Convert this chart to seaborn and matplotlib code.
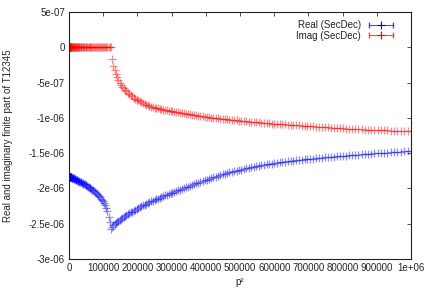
import matplotlib
matplotlib.use("Agg")
import matplotlib.pyplot as plt
from matplotlib.lines import Line2D
from matplotlib.legend_handler import HandlerLine2D, HandlerTuple
import seaborn as sns
import pandas as pd

# p^2 sampling points (p = 0, 5, ..., 1000)
p2 = [0, 25, 100, 225, 400, 625, 900, 1225, 1600, 2025, 2500, 3025, 3600, 4225, 4900, 5625,
      6400, 7225, 8100, 9025, 10000, 11025, 12100, 13225, 14400, 15625, 16900, 18225, 19600,
      21025, 22500, 24025, 25600, 27225, 28900, 30625, 32400, 34225, 36100, 38025, 40000,
      42025, 44100, 46225, 48400, 50625, 52900, 55225, 57600, 60025, 62500, 65025, 67600,
      70225, 72900, 75625, 78400, 81225, 84100, 87025, 90000, 93025, 96100, 99225, 102400,
      105625, 108900, 112225, 115600, 119025, 122500, 126025, 129600, 133225, 136900, 140625,
      144400, 148225, 152100, 156025, 160000, 164025, 168100, 172225, 176400, 180625, 184900,
      189225, 193600, 198025, 202500, 207025, 211600, 216225, 220900, 225625, 230400, 235225,
      240100, 245025, 250000, 255025, 260100, 265225, 270400, 275625, 280900, 286225, 291600,
      297025, 302500, 308025, 313600, 319225, 324900, 330625, 336400, 342225, 348100, 354025,
      360000, 366025, 372100, 378225, 384400, 390625, 396900, 403225, 409600, 416025, 422500,
      429025, 435600, 442225, 448900, 455625, 462400, 469225, 476100, 483025, 490000, 497025,
      504100, 511225, 518400, 525625, 532900, 540225, 547600, 555025, 562500, 570025, 577600,
      585225, 592900, 600625, 608400, 616225, 624100, 632025, 640000, 648025, 656100, 664225,
      672400, 680625, 688900, 697225, 705600, 714025, 722500, 731025, 739600, 748225, 756900,
      765625, 774400, 783225, 792100, 801025, 810000, 819025, 828100, 837225, 846400, 855625,
      864900, 874225, 883600, 893025, 902500, 912025, 921600, 931225, 940900, 950625, 960400,
      970225, 980100, 990025, 1000000]

# real part, in units of 1e-6
real_e6 = [-1.830, -1.830, -1.830, -1.830, -1.831, -1.831, -1.832, -1.832, -1.833, -1.834,
           -1.835, -1.836, -1.837, -1.838, -1.840, -1.841, -1.843, -1.844, -1.846, -1.848,
           -1.850, -1.853, -1.855, -1.858, -1.861, -1.864, -1.867, -1.871, -1.874, -1.878,
           -1.881, -1.885, -1.889, -1.893, -1.897, -1.902, -1.906, -1.911, -1.915, -1.920,
           -1.925, -1.931, -1.937, -1.944, -1.950, -1.957, -1.965, -1.973, -1.981, -1.990,
           -1.999, -2.008, -2.017, -2.026, -2.038, -2.050, -2.063, -2.076, -2.092, -2.108,
           -2.125, -2.144, -2.164, -2.185, -2.209, -2.236, -2.272, -2.322, -2.400, -2.480,
           -2.570, -2.540, -2.518, -2.504, -2.491, -2.478, -2.465, -2.451, -2.438, -2.424,
           -2.410, -2.397, -2.383, -2.369, -2.355, -2.341, -2.327, -2.313, -2.300, -2.288,
           -2.276, -2.263, -2.251, -2.240, -2.229, -2.217, -2.206, -2.194, -2.184, -2.174,
           -2.164, -2.153, -2.143, -2.133, -2.122, -2.111, -2.100, -2.090, -2.080, -2.070,
           -2.059, -2.049, -2.038, -2.028, -2.017, -2.006, -1.996, -1.985, -1.974, -1.963,
           -1.952, -1.941, -1.930, -1.918, -1.908, -1.897, -1.886, -1.875, -1.864, -1.853,
           -1.842, -1.832, -1.821, -1.811, -1.801, -1.792, -1.783, -1.774, -1.765, -1.756,
           -1.748, -1.740, -1.732, -1.724, -1.717, -1.709, -1.702, -1.695, -1.688, -1.681,
           -1.674, -1.667, -1.660, -1.654, -1.649, -1.643, -1.637, -1.631, -1.626, -1.621,
           -1.616, -1.611, -1.606, -1.601, -1.596, -1.592, -1.588, -1.584, -1.580, -1.576,
           -1.571, -1.567, -1.564, -1.560, -1.556, -1.553, -1.549, -1.545, -1.541, -1.538,
           -1.534, -1.530, -1.527, -1.523, -1.520, -1.516, -1.512, -1.509, -1.506, -1.503,
           -1.500, -1.497, -1.494, -1.491, -1.488, -1.485, -1.482, -1.479, -1.476, -1.473,
           -1.470]

# imaginary part, in units of 1e-6 (zero below threshold)
imag_e6 = [0.0] * 71 + [
           -0.170, -0.262, -0.326, -0.379, -0.424, -0.463, -0.500, -0.529, -0.556,
           -0.581, -0.604, -0.625, -0.645, -0.663, -0.681, -0.697, -0.713, -0.727, -0.741,
           -0.754, -0.767, -0.779, -0.790, -0.801, -0.811, -0.821, -0.831, -0.840, -0.849,
           -0.857, -0.862, -0.867, -0.872, -0.877, -0.882, -0.887, -0.892, -0.897, -0.902,
           -0.907, -0.911, -0.916, -0.920, -0.925, -0.929, -0.934, -0.939, -0.943, -0.948,
           -0.953, -0.958, -0.963, -0.968, -0.973, -0.977, -0.982, -0.987, -0.991, -0.995,
           -0.999, -1.002, -1.006, -1.010, -1.014, -1.018, -1.021, -1.025, -1.028, -1.031,
           -1.035, -1.038, -1.042, -1.045, -1.048, -1.052, -1.055, -1.059, -1.062, -1.065,
           -1.068, -1.071, -1.074, -1.077, -1.080, -1.083, -1.086, -1.089, -1.091, -1.094,
           -1.097, -1.099, -1.102, -1.105, -1.108, -1.110, -1.113, -1.116, -1.119, -1.121,
           -1.124, -1.127, -1.130, -1.132, -1.135, -1.138, -1.140, -1.143, -1.146, -1.148,
           -1.151, -1.153, -1.155, -1.158, -1.160, -1.162, -1.165, -1.167, -1.169, -1.171,
           -1.173, -1.175, -1.177, -1.179, -1.181, -1.183, -1.185, -1.187, -1.188, -1.190,
           -1.192]

x_ticks = [0, 100000, 200000, 300000, 400000, 500000, 600000, 700000, 800000, 900000, 1000000]
x_ticklabels = ["0", "100000", "200000", "300000", "400000", "500000", "600000",
                "700000", "800000", "900000", "1e+06"]
y_ticks = [5e-07, 0, -5e-07, -1e-06, -1.5e-06, -2e-06, -2.5e-06, -3e-06]
y_ticklabels = ["5e-07", "0", "-5e-07", "-1e-06", "-1.5e-06", "-2e-06", "-2.5e-06", "-3e-06"]

sns.set_style("white")
plt.rcParams["font.family"] = ["Liberation Sans", "DejaVu Sans"]

df = pd.DataFrame({"p2": p2,
                   "real": [v * 1e-6 for v in real_e6],
                   "imag": [v * 1e-6 for v in imag_e6]})

fig = plt.figure(figsize=(4.28, 3.0), dpi=100)
ax = fig.add_axes([69 / 428, 41 / 300, 342 / 428, 247 / 300])

sns.scatterplot(data=df, x="p2", y="real", marker="+", s=36, color="#0000ff",
                alpha=0.45, linewidth=0.9, ax=ax)
sns.scatterplot(data=df, x="p2", y="imag", marker="+", s=36, color="#ff0000",
                alpha=0.45, linewidth=0.9, ax=ax)

ax.set_xlim(0, 1000000)
ax.set_ylim(-3e-06, 5e-07)
ax.set_xticks(x_ticks)
ax.set_xticklabels(x_ticklabels)
ax.set_yticks(y_ticks)
ax.set_yticklabels(y_ticklabels)
ax.tick_params(direction="in", length=3, width=0.6, labelsize=7, pad=3,
               top=True, right=True, color="#333333")
for sp in ax.spines.values():
    sp.set_color("#222222")
    sp.set_linewidth(0.8)

ax.set_xlabel("p²", fontsize=7, labelpad=3)
ax.set_ylabel("Real and imaginary finite part of T12345", fontsize=7, labelpad=11)

# gnuplot-like legend: text first, then an error-bar sample
handles, hmap = [], {}
for col in ["#0000ff", "#ff0000"]:
    caps = Line2D([], [], color=col, lw=0.8, alpha=0.7, marker="|", markersize=4)
    plus = Line2D([], [], color=col, lw=0, marker="+", markersize=6, markeredgewidth=0.8)
    hmap[caps] = HandlerLine2D(numpoints=2)
    hmap[plus] = HandlerLine2D(numpoints=1)
    handles.append((caps, plus))
hmap[tuple] = HandlerTuple(ndivide=1)
leg = ax.legend(handles, ["Real (SecDec)", "Imag (SecDec)"], handler_map=hmap,
                loc="upper right", bbox_to_anchor=(0.975, 0.995), frameon=False,
                markerfirst=False, fontsize=7, handlelength=3.0, handletextpad=0.6,
                labelspacing=0.05, borderpad=0.2)

fig.savefig("out.png", dpi=100)
